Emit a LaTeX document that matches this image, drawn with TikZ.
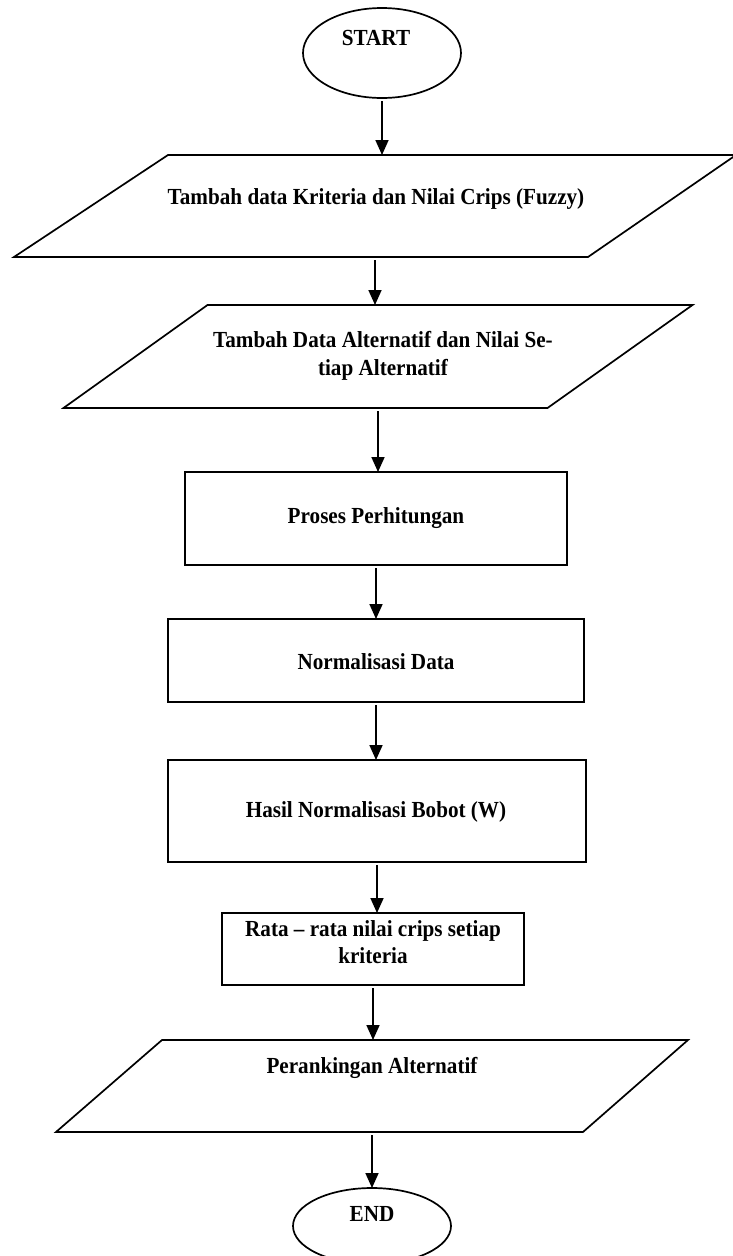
\documentclass[tikz,border=0pt]{standalone}
\usepackage{fontspec}
\setmainfont{Liberation Serif}[FakeStretch=0.92]
\usetikzlibrary{arrows.meta,shapes.geometric,calc}
\begin{document}
\begin{tikzpicture}[x=1pt,y=-1pt,
  box/.style={draw, line width=1.7pt},
  anch/.style={inner sep=0pt, outer sep=0pt},
  txt/.style={font=\bfseries\fontsize{23}{27.5}\selectfont, align=center, inner sep=0pt},
  arr/.style={line width=1.7pt, -{Triangle[length=15pt,width=13pt]}, shorten <=3pt}]
\useasboundingbox (0,0) rectangle (732,1256);
\fill[white] (0,0) rectangle (732,1256);

% START
\node[box, ellipse, anch, minimum width=158, minimum height=90] (start) at (382,53) {};
\node[txt] (starttxt) at (376,38) {START};

% Parallelogram 1
\node[anch, minimum width=722, minimum height=102] (p1) at (375,206) {};
\draw[box] ($(p1.north west)+(154,0)$) -- (p1.north east) -- ($(p1.south east)+(-148,0)$) -- (p1.south west) -- cycle;
\node[txt] (p1txt) at (376,199) {Tambah data Kriteria dan Nilai Crips (Fuzzy)};

% Parallelogram 2
\node[anch, minimum width=629, minimum height=103] (p2) at (378,356.5) {};
\draw[box] ($(p2.north west)+(144,0)$) -- (p2.north east) -- ($(p2.south east)+(-145,0)$) -- (p2.south west) -- cycle;
\node[txt] (p2txt) at (383,356) {Tambah Data Alternatif dan Nilai Se-\\tiap Alternatif};

% Process rectangles
\node[box, anch, minimum width=382, minimum height=93] (r1) at (376,518.5) {};
\node[txt] (r1txt) at (376,518) {Proses Perhitungan};

\node[box, anch, minimum width=416, minimum height=83] (r2) at (376,660.5) {};
\node[txt] (r2txt) at (376,662) {Normalisasi Data};

\node[box, anch, minimum width=418, minimum height=102] (r3) at (377,811) {};
\node[txt] (r3txt) at (376,812) {Hasil Normalisasi Bobot (W)};

\node[box, anch, minimum width=302, minimum height=72] (r4) at (373,949) {};
\node[txt] (r4txt) at (373,942) {Rata -- rata nilai crips setiap\\kriteria};

% Parallelogram 3
\node[anch, minimum width=632, minimum height=92] (p3) at (372,1086) {};
\draw[box] ($(p3.north west)+(106,0)$) -- (p3.north east) -- ($(p3.south east)+(-105,0)$) -- (p3.south west) -- cycle;
\node[txt] (p3txt) at (372,1068) {Perankingan Alternatif};

% END
\node[box, ellipse, anch, minimum width=158, minimum height=76] (endn) at (372,1226) {};
\node[txt] (endtxt) at (372,1214) {END};

% Connectors
\draw[arr] (start.south) -- (start.south |- p1.north);
\draw[arr] (p1.south) -- (p1.south |- p2.north);
\draw[arr] (p2.south) -- (p2.south |- r1.north);
\draw[arr] (r1.south) -- (r1.south |- r2.north);
\draw[arr] (r2.south) -- (r2.south |- r3.north);
\draw[arr] (r3.south) -- (r3.south |- r4.north);
\draw[arr] (r4.south) -- (r4.south |- p3.north);
\draw[arr] (p3.south) -- (p3.south |- endn.north);
\end{tikzpicture}
\end{document}
